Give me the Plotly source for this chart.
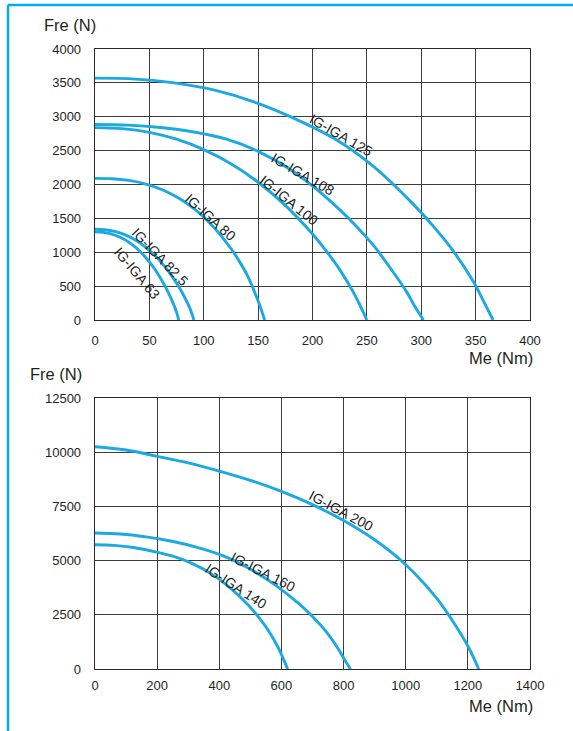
import plotly.graph_objects as go

# ---------------- data ----------------
# Top chart: Me (Nm) vs Fre (N)
me_125 = [0, 37, 73, 110, 146, 183, 220, 256, 293, 311, 329, 348, 357, 366]
fre_125 = [3570, 3556, 3500, 3392, 3220, 2977, 2678, 2267, 1703, 1385, 1028, 564, 286, 0]

me_108 = [0, 30, 60, 91, 121, 151, 181, 211, 242, 257, 272, 287, 294, 302]
fre_108 = [2885, 2876, 2842, 2775, 2669, 2481, 2207, 1832, 1356, 1082, 756, 404, 202, 0]

me_100 = [0, 25, 50, 75, 100, 125, 150, 175, 200, 212.5, 225, 237.5, 243.8, 250]
fre_100 = [2840, 2825, 2770, 2668, 2515, 2306, 2033, 1692, 1270, 1022, 744, 412, 213, 0]

me_80 = [0, 15.6, 31.2, 46.8, 62.4, 78, 93.6, 109.2, 124.8, 132.6, 140.4, 148.2, 152.1, 156]
fre_80 = [2090, 2085, 2060, 2007, 1919, 1789, 1609, 1370, 1059, 869, 649, 355, 188, 0]

me_825 = [0, 9.1, 18.2, 27.3, 36.4, 45.5, 54.6, 63.7, 72.8, 77.4, 81.9, 86.5, 88.7, 91]
fre_825 = [1340, 1333, 1307, 1259, 1187, 1088, 959, 798, 599, 482, 351, 200, 112, 0]

me_63 = [0, 7.7, 15.4, 23.1, 30.8, 38.5, 46.2, 53.9, 61.6, 65.5, 69.3, 73.2, 75.1, 77]
fre_63 = [1300, 1293, 1268, 1221, 1151, 1055, 931, 775, 581, 468, 340, 194, 109, 0]

# Bottom chart
me_200 = [0, 100, 200, 300, 400, 500, 600, 700, 800, 900, 1000, 1100, 1150, 1200, 1235]
fre_200 = [10250, 10100, 9810, 9510, 9130, 8700, 8190, 7580, 6850, 5960, 4810, 3260, 2235, 1060, 0]

me_160 = [0, 82, 164, 247, 329, 411, 493, 575, 658, 699, 740, 781, 801, 822]
fre_160 = [6270, 6226, 6094, 5894, 5612, 5229, 4659, 3925, 2991, 2433, 1793, 972, 489, 0]

me_140 = [0, 62, 124, 186, 248, 310, 372, 434, 496, 527, 558, 589, 604.5, 620]
fre_140 = [5730, 5701, 5604, 5432, 5214, 4882, 4411, 3757, 2904, 2383, 1778, 1003, 527, 0]

top_x_ticks = [0, 50, 100, 150, 200, 250, 300, 350, 400]
top_y_ticks = [0, 500, 1000, 1500, 2000, 2500, 3000, 3500, 4000]
bot_x_ticks = [0, 200, 400, 600, 800, 1000, 1200, 1400]
bot_y_ticks = [0, 2500, 5000, 7500, 10000, 12500]

top_series = [
    ("IG-IGA 125", me_125, fre_125),
    ("IG-IGA 108", me_108, fre_108),
    ("IG-IGA 100", me_100, fre_100),
    ("IG-IGA 80", me_80, fre_80),
    ("IG-IGA 82.5", me_825, fre_825),
    ("IG-IGA 63", me_63, fre_63),
]
bot_series = [
    ("IG-IGA 200", me_200, fre_200),
    ("IG-IGA 160", me_160, fre_160),
    ("IG-IGA 140", me_140, fre_140),
]

# label placement (data coords) and angle
top_labels = [
    ("IG-IGA 125", 226, 2731, 30),
    ("IG-IGA 108", 191, 2162, 30),
    ("IG-IGA 100", 178, 1771, 39),
    ("IG-IGA 80", 105.7, 1513, 42),
    ("IG-IGA 82.5", 60, 930, 46),
    ("IG-IGA 63", 38.6, 694, 50),
]
bot_labels = [
    ("IG-IGA 200", 793, 7288, 28),
    ("IG-IGA 160", 542, 4474, 27),
    ("IG-IGA 140", 453, 3828, 33),
]

# ---------------- styling ----------------
W, H = 573, 731
FONT = "Liberation Sans, Arial, sans-serif"
CURVE = "#1BA9E3"
FRAME = "#00AEEF"
GRID = "#3c3c3c"
TXT = "#231f20"


def px(x):
    return x / W


def py(y):
    return 1 - y / H


fig = go.Figure()

for name, xs, ys in top_series:
    fig.add_trace(go.Scatter(x=xs, y=ys, mode="lines", name=name,
                             line=dict(color=CURVE, width=2.9, shape="spline", smoothing=1),
                             xaxis="x", yaxis="y", hoverinfo="skip", showlegend=False))
for name, xs, ys in bot_series:
    fig.add_trace(go.Scatter(x=xs, y=ys, mode="lines", name=name,
                             line=dict(color=CURVE, width=2.9, shape="spline", smoothing=1),
                             xaxis="x2", yaxis="y2", hoverinfo="skip", showlegend=False))

axis_common = dict(showgrid=True, gridcolor=GRID, gridwidth=1, showline=True,
                   linecolor="#2a2a2a", linewidth=1.3, mirror=True, zeroline=False,
                   ticks="", tickfont=dict(family=FONT, size=13, color=TXT),
                   fixedrange=True, tickmode="array", automargin=False)

xdom = [95 / W, 530 / W]
fig.update_layout(
    template="none",
    width=W, height=H, autosize=False,
    margin=dict(l=0, r=0, t=0, b=0, pad=0),
    paper_bgcolor="white", plot_bgcolor="white",
    xaxis=dict(domain=xdom, range=[0, 400], tickvals=top_x_ticks,
               ticktext=[str(v) for v in top_x_ticks], anchor="y",
               ticklabelstandoff=8, **axis_common),
    yaxis=dict(domain=[py(320), py(49)], range=[0, 4000], tickvals=top_y_ticks,
               ticktext=[str(v) for v in top_y_ticks], anchor="x",
               ticklabelstandoff=10, **axis_common),
    xaxis2=dict(domain=xdom, range=[0, 1400], tickvals=bot_x_ticks,
                ticktext=[str(v) for v in bot_x_ticks], anchor="y2",
                ticklabelstandoff=4, **axis_common),
    yaxis2=dict(domain=[py(669), py(398)], range=[0, 12500], tickvals=bot_y_ticks,
                ticktext=[str(v) for v in bot_y_ticks], anchor="x2",
                ticklabelstandoff=10, **axis_common),
)

ann = []
for text, x, y, ang in top_labels:
    ann.append(dict(text=text, x=x, y=y, xref="x", yref="y", showarrow=False,
                    textangle=ang, font=dict(family=FONT, size=14, color=TXT)))
for text, x, y, ang in bot_labels:
    ann.append(dict(text=text, x=x, y=y, xref="x2", yref="y2", showarrow=False,
                    textangle=ang, font=dict(family=FONT, size=14, color=TXT)))

titles = [
    ("Fre (N)", 42, 25, "left"),
    ("Fre (N)", 28, 374, "left"),
    ("Me (Nm)", 535, 358, "right"),
    ("Me (Nm)", 535, 706, "right"),
]
for text, x, y, anchor in titles:
    ann.append(dict(text=text, x=px(x), y=py(y), xref="paper", yref="paper",
                    xanchor=anchor, yanchor="middle", showarrow=False,
                    font=dict(family=FONT, size=16.5, color=TXT)))
fig.update_layout(annotations=ann)

fig.update_layout(shapes=[
    dict(type="line", xref="paper", yref="paper", x0=px(8), x1=px(8), y0=0, y1=py(5),
         line=dict(color=FRAME, width=2.5)),
    dict(type="line", xref="paper", yref="paper", x0=px(8), x1=1, y0=py(5), y1=py(5),
         line=dict(color=FRAME, width=2.5)),
])

fig.write_html(
    "out.html",
    config={"displayModeBar": False, "staticPlot": True},
    post_script="document.body.style.margin='0';document.body.style.padding='0';"
                "document.body.style.overflow='hidden';",
)
